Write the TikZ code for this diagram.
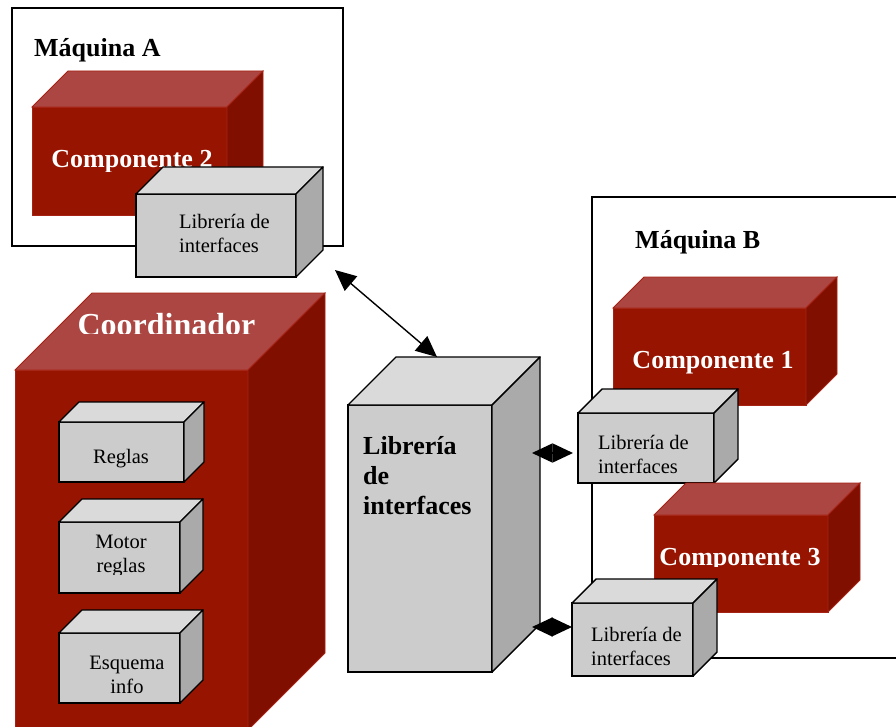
\documentclass[tikz,border=0pt]{standalone}
\usepackage{fontspec}
\setmainfont{Liberation Serif}
\usetikzlibrary{arrows.meta,calc}

\definecolor{redfront}{RGB}{150,20,0}
\definecolor{redtop}{RGB}{172,70,66}
\definecolor{redside}{RGB}{128,15,0}
\definecolor{rededge}{RGB}{165,35,20}
\definecolor{grayfront}{RGB}{204,204,204}
\definecolor{graytop}{RGB}{218,218,218}
\definecolor{grayside}{RGB}{170,170,170}

\tikzset{
  redF/.style={fill=redfront, draw=rededge, line width=0.8pt},
  redT/.style={fill=redtop, draw=rededge, line width=0.8pt},
  redS/.style={fill=redside, draw=rededge, line width=0.8pt},
  grayF/.style={fill=grayfront, draw=black, line width=1.4pt},
  grayT/.style={fill=graytop, draw=black, line width=1.4pt, line join=round},
  grayS/.style={fill=grayside, draw=black, line width=1.4pt, line join=round},
  machine/.style={draw=black, line width=1.2pt},
  title/.style={font=\bfseries\fontsize{26}{30}\selectfont, inner sep=0pt},
  redlabel/.style={title, text=white},
  bigredlabel/.style={redlabel, font=\bfseries\fontsize{32}{36}\selectfont},
  smalllabel/.style={font=\fontsize{20.5}{24}\selectfont, inner sep=0pt},
  link/.style={<->, >={Triangle[length=21pt,width=19pt]}, line width=1.4pt},
  shortlink/.style={<->, >={Triangle[length=20.5pt,width=19pt]}, line width=1.4pt},
}

% \cuboid{name}{left}{top}{width}{height}{depth}{red|gray}
\newcommand\cuboid[7]{%
  \node[#7F, minimum width=#4pt, minimum height=#5pt, inner sep=0pt,
        outer sep=0pt, anchor=north west] (#1) at (#2,#3) {};
  \path[#7T] (#1.north west) -- ++(#6pt,#6pt)
     -- ($(#1.north east)+(#6pt,#6pt)$) -- (#1.north east) -- cycle;
  \path[#7S] (#1.north east) -- ++(#6pt,#6pt)
     -- ($(#1.south east)+(#6pt,#6pt)$) -- (#1.south east) -- cycle;
}

\begin{document}
\begin{tikzpicture}[x=1pt,y=-1pt]
\useasboundingbox (0,0) rectangle (896,727);
\clip (0,0) rectangle (896,727);
\fill[white] (0,0) rectangle (896,727);

% Machine A
\draw[machine] (12,8) rectangle (343,246);
\node[title, anchor=base west] (machA) at (34,57) {Máquina A};
\cuboid{compB}{32}{107}{195}{108}{36}{red}
\begin{scope}
  \clip (0,0) rectangle (400,172);
  \node[redlabel, anchor=base] (compBlabel) at (132,168) {Componente 2};
\end{scope}
\cuboid{libA}{136}{194}{160}{83}{27}{gray}
\node[smalllabel, anchor=west, align=left] (libAlabel) at (179,233)
  {Librería de\\interfaces};

% Coordinator
\cuboid{coord}{15}{370}{233}{360}{77}{red}
\begin{scope}
  \clip (0,0) rectangle (400,333);
  \node[bigredlabel, anchor=base] (coordlabel) at (166.5,335) {Coordinador};
\end{scope}
\cuboid{rules}{59}{422}{125}{60}{20}{gray}
\node[smalllabel, anchor=base] (ruleslabel) at (121,463) {Reglas};
\cuboid{engine}{59}{522}{121}{71}{23}{gray}
\begin{scope}
  \clip (0,0) rectangle (400,574);
  \node[smalllabel, align=center] (enginelabel) at (121,556) {Motor\\reglas};
\end{scope}
\cuboid{schema}{59}{633}{121}{70}{23}{gray}
\node[smalllabel, align=center] (schemalabel) at (127,675) {Esquema\\info};

% Central interface library
\cuboid{libC}{348}{405}{144}{267}{48}{gray}
\node[title, anchor=west, align=left]
  (libClabel) at (363,476) {Librería\\de\\interfaces};

% Machine B
\draw[machine] (592,197) rectangle (930,658);
\node[title, anchor=base west] (machB) at (635,248) {Máquina B};
\cuboid{compA}{613}{308}{193}{97}{31}{red}
\node[redlabel, anchor=base] (compAlabel) at (713,368) {Componente 1};
\cuboid{libB}{578}{413}{136}{70}{24}{gray}
\node[smalllabel, anchor=west, align=left] (libBlabel) at (598,454)
  {Librería de\\interfaces};
\cuboid{compC}{654}{515}{174}{97}{32}{red}
\begin{scope}
  \clip (0,0) rectangle (896,566);
  \node[redlabel, anchor=base] (compClabel) at (740,565) {Componente 3};
\end{scope}
\cuboid{libD}{572}{603}{121}{73}{24}{gray}
\node[smalllabel, anchor=west, align=left] (libDlabel) at (591,646)
  {Librería de\\interfaces};

% Connectors
\coordinate (endA) at (335,270);
\coordinate (endC) at (437,357);
\draw[link] (endA) -- (endC);
\coordinate (endC1) at (532,453);
\coordinate (endB) at (573,453);
\draw[shortlink] (endC1) -- (endB);
\coordinate (endC2) at (532,627);
\coordinate (endD) at (572,627);
\draw[shortlink] (endC2) -- (endD);
\end{tikzpicture}
\end{document}
